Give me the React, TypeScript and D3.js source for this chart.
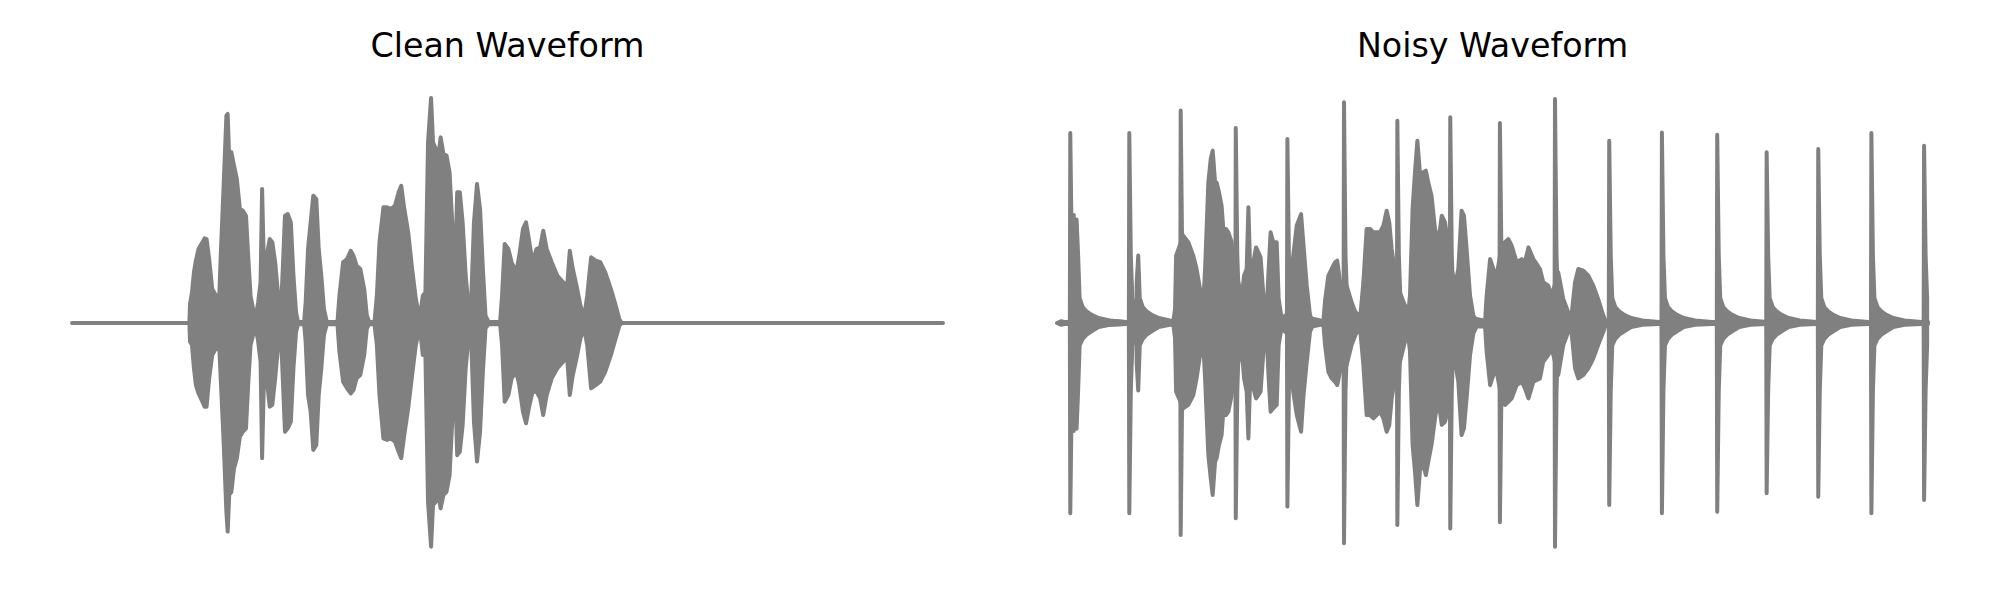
import React from "react";
import * as d3 from "d3";

// envelope of each recording: [time (s), upper amplitude, lower amplitude]
const duration = 4.0;

const cleanEnvelope: [number, number, number][] = [
  [0.0, 0, 0], [0.539, 0, 0], [0.542, 0.084, -0.083], [0.551, 0.136, -0.098],
  [0.56, 0.225, -0.201], [0.569, 0.277, -0.276], [0.581, 0.329, -0.313], [0.599, 0.359, -0.35],
  [0.609, 0.376, -0.372], [0.618, 0.373, -0.372], [0.63, 0.284, -0.246], [0.644, 0.151, -0.142],
  [0.657, 0.129, -0.12], [0.669, 0.107, -0.105], [0.676, 0.107, -0.098], [0.683, 0.299, -0.246],
  [0.697, 0.625, -0.542], [0.709, 0.921, -0.839], [0.715, 0.929, -0.927], [0.722, 0.729, -0.764],
  [0.732, 0.759, -0.75], [0.744, 0.699, -0.646], [0.757, 0.64, -0.601], [0.771, 0.507, -0.505],
  [0.785, 0.499, -0.483], [0.799, 0.477, -0.468], [0.809, 0.299, -0.276], [0.82, 0.121, -0.098],
  [0.832, 0.062, -0.053], [0.845, 0.033, -0.024], [0.855, 0.092, -0.083], [0.866, 0.181, -0.172],
  [0.873, 0.596, -0.601], [0.883, 0.181, -0.187], [0.894, 0.299, -0.246], [0.908, 0.373, -0.372],
  [0.92, 0.359, -0.364], [0.933, 0.27, -0.246], [0.947, 0.121, -0.098], [0.959, 0.047, -0.039],
  [0.968, 0.24, -0.246], [0.978, 0.477, -0.483], [0.991, 0.484, -0.468], [1.005, 0.447, -0.439],
  [1.017, 0.21, -0.201], [1.029, 0.047, -0.039], [1.038, 0.005, -0.005], [1.066, 0.005, -0.005],
  [1.073, 0.092, -0.083], [1.084, 0.329, -0.32], [1.096, 0.447, -0.394], [1.108, 0.566, -0.564],
  [1.122, 0.551, -0.542], [1.133, 0.329, -0.32], [1.145, 0.21, -0.201], [1.157, 0.062, -0.053],
  [1.17, 0.005, -0.005], [1.219, 0.005, -0.005], [1.228, 0.121, -0.127], [1.245, 0.27, -0.261],
  [1.263, 0.284, -0.29], [1.28, 0.321, -0.313], [1.293, 0.299, -0.298], [1.307, 0.255, -0.246],
  [1.324, 0.24, -0.231], [1.342, 0.151, -0.142], [1.354, 0.033, -0.024], [1.365, 0.005, -0.005],
  [1.389, 0.005, -0.005], [1.4, 0.121, -0.098], [1.412, 0.359, -0.32], [1.43, 0.514, -0.513],
  [1.447, 0.514, -0.52], [1.465, 0.507, -0.513], [1.483, 0.521, -0.527], [1.5, 0.581, -0.572],
  [1.512, 0.61, -0.601], [1.526, 0.507, -0.498], [1.544, 0.403, -0.379], [1.562, 0.24, -0.231],
  [1.579, 0.107, -0.098], [1.597, 0.018, -0.016], [1.611, 0.121, -0.142], [1.623, 0.136, -0.142],
  [1.635, 0.803, -0.794], [1.649, 1.0, -0.994], [1.658, 0.803, -0.809], [1.671, 0.773, -0.794],
  [1.681, 0.729, -0.75], [1.693, 0.825, -0.824], [1.706, 0.751, -0.764], [1.72, 0.744, -0.75],
  [1.734, 0.67, -0.676], [1.746, 0.447, -0.439], [1.758, 0.21, -0.216], [1.769, 0.581, -0.587],
  [1.781, 0.581, -0.572], [1.794, 0.447, -0.453], [1.808, 0.21, -0.201], [1.822, 0.062, -0.053],
  [1.834, 0.121, -0.098], [1.846, 0.447, -0.439], [1.86, 0.618, -0.616], [1.874, 0.507, -0.483],
  [1.887, 0.24, -0.216], [1.899, 0.033, -0.024], [1.913, 0.005, -0.005], [1.966, 0.005, -0.005],
  [1.975, 0.121, -0.098], [1.987, 0.351, -0.35], [2.004, 0.329, -0.32], [2.019, 0.27, -0.246],
  [2.04, 0.225, -0.216], [2.054, 0.299, -0.276], [2.071, 0.418, -0.394], [2.085, 0.447, -0.446],
  [2.098, 0.373, -0.379], [2.115, 0.27, -0.305], [2.133, 0.329, -0.305], [2.15, 0.336, -0.335],
  [2.164, 0.41, -0.409], [2.18, 0.329, -0.32], [2.203, 0.27, -0.246], [2.229, 0.21, -0.201],
  [2.256, 0.181, -0.172], [2.273, 0.151, -0.142], [2.286, 0.321, -0.32], [2.3, 0.24, -0.231],
  [2.317, 0.166, -0.157], [2.335, 0.077, -0.068], [2.352, 0.025, -0.024], [2.366, 0.121, -0.098],
  [2.384, 0.292, -0.29], [2.405, 0.277, -0.276], [2.426, 0.27, -0.261], [2.449, 0.225, -0.216],
  [2.475, 0.151, -0.142], [2.497, 0.077, -0.068], [2.514, 0.015, -0.012], [2.525, 0, 0],
  [4.0, 0, 0],
];

const noisySpeech: [number, number, number][] = [
  [0.0, 0, 0], [0.02, 0.008, -0.008], [0.04, 0.004, -0.004], [0.534, 0.004, -0.004],
  [0.542, 0.062, -0.068], [0.547, 0.299, -0.305], [0.58, 0.388, -0.379], [0.603, 0.359, -0.364],
  [0.626, 0.299, -0.32], [0.641, 0.24, -0.246], [0.657, 0.151, -0.142], [0.672, 0.092, -0.098],
  [0.68, 0.24, -0.246], [0.695, 0.625, -0.587], [0.706, 0.729, -0.69], [0.715, 0.766, -0.764],
  [0.726, 0.625, -0.616], [0.733, 0.625, -0.601], [0.744, 0.581, -0.542], [0.756, 0.521, -0.498],
  [0.767, 0.373, -0.35], [0.776, 0.418, -0.409], [0.787, 0.403, -0.394], [0.802, 0.359, -0.32],
  [0.813, 0.24, -0.246], [0.833, 0.181, -0.172], [0.848, 0.107, -0.113], [0.859, 0.21, -0.246],
  [0.871, 0.24, -0.305], [0.879, 0.514, -0.513], [0.889, 0.181, -0.187], [0.902, 0.27, -0.29],
  [0.914, 0.336, -0.335], [0.925, 0.314, -0.32], [0.935, 0.292, -0.305], [0.948, 0.121, -0.127],
  [0.963, 0.062, -0.053], [0.972, 0.24, -0.246], [0.981, 0.403, -0.394], [0.993, 0.359, -0.379],
  [1.009, 0.359, -0.364], [1.018, 0.107, -0.098], [1.032, 0.018, -0.016], [1.047, 0.033, -0.039],
  [1.062, 0.03, -0.03], [1.07, 0.136, -0.142], [1.085, 0.299, -0.305], [1.101, 0.433, -0.409],
  [1.121, 0.484, -0.483], [1.131, 0.359, -0.335], [1.147, 0.166, -0.172], [1.162, 0.033, -0.039],
  [1.177, 0.004, -0.004], [1.223, 0.004, -0.004], [1.231, 0.099, -0.098], [1.246, 0.21, -0.216],
  [1.261, 0.24, -0.246], [1.277, 0.27, -0.261], [1.287, 0.277, -0.276], [1.3, 0.181, -0.216],
  [1.33, 0.166, -0.187], [1.353, 0.092, -0.098], [1.376, 0.033, -0.039], [1.392, 0.018, -0.024],
  [1.407, 0.181, -0.187], [1.422, 0.418, -0.409], [1.438, 0.418, -0.409], [1.453, 0.403, -0.424],
  [1.468, 0.403, -0.409], [1.483, 0.403, -0.394], [1.499, 0.433, -0.424], [1.514, 0.499, -0.483],
  [1.526, 0.447, -0.453], [1.537, 0.329, -0.335], [1.552, 0.225, -0.246], [1.575, 0.136, -0.172],
  [1.598, 0.077, -0.083], [1.613, 0.047, -0.053], [1.621, 0.121, -0.127], [1.633, 0.507, -0.542],
  [1.644, 0.67, -0.661], [1.655, 0.81, -0.809], [1.667, 0.662, -0.653], [1.682, 0.67, -0.631],
  [1.694, 0.677, -0.676], [1.705, 0.625, -0.616], [1.72, 0.566, -0.542], [1.736, 0.418, -0.424],
  [1.751, 0.359, -0.335], [1.767, 0.477, -0.453], [1.782, 0.447, -0.439], [1.793, 0.373, -0.394],
  [1.812, 0.24, -0.216], [1.828, 0.166, -0.172], [1.843, 0.24, -0.261], [1.858, 0.499, -0.498],
  [1.869, 0.477, -0.468], [1.881, 0.329, -0.335], [1.897, 0.121, -0.142], [1.912, 0.033, -0.046],
  [1.927, 0.01, -0.016], [1.966, 0.01, -0.016], [1.973, 0.121, -0.127], [1.989, 0.284, -0.276],
  [2.004, 0.24, -0.231], [2.019, 0.21, -0.216], [2.042, 0.344, -0.335], [2.057, 0.359, -0.364],
  [2.073, 0.373, -0.35], [2.088, 0.344, -0.335], [2.111, 0.27, -0.276], [2.134, 0.284, -0.261],
  [2.149, 0.27, -0.29], [2.165, 0.336, -0.335], [2.188, 0.284, -0.261], [2.218, 0.24, -0.246],
  [2.233, 0.181, -0.172], [2.256, 0.166, -0.142], [2.272, 0.121, -0.113], [2.302, 0.225, -0.231],
  [2.325, 0.107, -0.098], [2.348, 0.047, -0.039], [2.363, 0.033, -0.039], [2.379, 0.181, -0.201],
  [2.394, 0.24, -0.246], [2.417, 0.233, -0.231], [2.44, 0.21, -0.201], [2.463, 0.166, -0.157],
  [2.485, 0.107, -0.098], [2.509, 0.033, -0.039], [2.521, 0.004, -0.004], [4.0, 0.004, -0.004],
];

// clicks added to the noisy recording
const clickTimes = [0.061, 0.077, 0.09, 0.332, 0.366, 0.568, 0.821, 1.058, 1.318, 1.563, 1.806, 2.034, 2.287, 2.536, 2.778, 3.032, 3.259, 3.496, 3.74, 3.982];
const clickPeaks = [0.844, 0.48, 0.46, 0.844, 0.18, 0.944, 0.867, 0.818, 0.981, 0.899, 0.914, 0.889, 0.996, 0.81, 0.847, 0.837, 0.759, 0.773, 0.844, 0.788];
const clickTroughs = [-0.846, -0.48, -0.47, -0.846, -0.18, -0.942, -0.868, -0.816, -0.979, -0.898, -0.913, -0.886, -0.994, -0.809, -0.846, -0.839, -0.757, -0.772, -0.846, -0.787];
// ringing after each click: [seconds after click, upper, lower]
const clickTail: [number, number, number][] = [
  [0.007, 0.3, -0.3], [0.014, 0.11, -0.1], [0.028, 0.07, -0.07], [0.046, 0.052, -0.052],
  [0.069, 0.036, -0.037], [0.101, 0.022, -0.018], [0.152, 0.011, -0.008], [0.23, 0.005, -0.004],
];

const titles = ["Clean Waveform", "Noisy Waveform"];

const W = 2000, H = 600;
const margin = { left: 72, right: 72, top: 98, bottom: 52 };
const gap = 114;
const panelW = (W - margin.left - margin.right - gap) / 2;
const color = "#808080";

export default function App() {
  const y = d3.scaleLinear().domain([-1, 1]).range([H - margin.bottom, margin.top]);

  const panels = titles.map((title, i) => {
    const x0 = margin.left + i * (panelW + gap);
    const x = d3.scaleLinear().domain([0, duration]).range([x0, x0 + panelW]);
    const area = d3.area<[number, number, number]>()
      .x((d) => x(d[0]))
      .y0((d) => y(d[2]))
      .y1((d) => y(d[1]));

    let paths: string[] = [];
    if (i === 0) {
      paths = [area(cleanEnvelope) as string];
    } else {
      paths = [area(noisySpeech) as string];
      clickTimes.forEach((t, k) => {
        const pts = [
          [t - 0.002, 0.004, -0.004],
          [t, clickPeaks[k], clickTroughs[k]],
          ...clickTail.map((c) => [t + c[0], c[1], c[2]]),
        ].filter((p) => p[0] >= 0 && p[0] <= duration) as [number, number, number][];
        paths.push(area(pts) as string);
      });
    }
    return { title, cx: x0 + panelW / 2, paths };
  });

  return (
    <svg width={W} height={H} style={{ position: "absolute", left: 0, top: 0, background: "#fff" }}>
      {panels.map((p) => (
        <g key={p.title}>
          <text x={p.cx} y={57} textAnchor="middle" fontFamily="DejaVu Sans" fontSize={33.3} fill="#000">
            {p.title}
          </text>
          {p.paths.map((d, k) => (
            <path key={k} d={d} fill={color} stroke={color} strokeWidth={4}
              strokeLinejoin="round" strokeLinecap="round" />
          ))}
        </g>
      ))}
    </svg>
  );
}
